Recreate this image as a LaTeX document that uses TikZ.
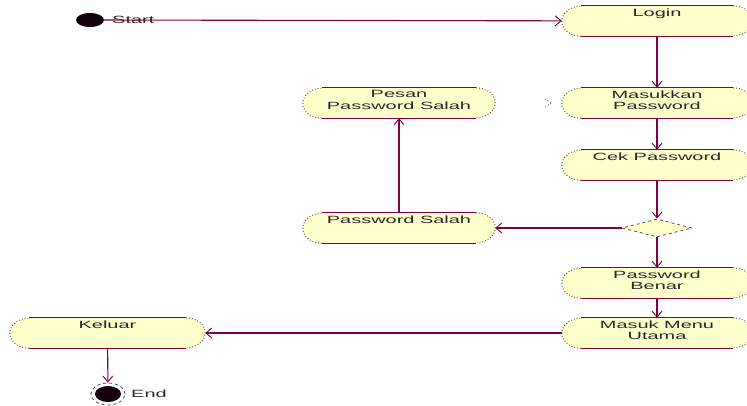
\documentclass[tikz,border=0pt]{standalone}
\usepackage{fontspec}
\newfontfamily\diagfont[FakeStretch=1.9]{Liberation Sans}
\usetikzlibrary{arrows.meta,shapes.geometric}
\pgfdeclarelayer{background}
\pgfsetlayers{background,main}
\definecolor{flowline}{RGB}{128,0,64}
\definecolor{actfill}{RGB}{255,255,204}
\definecolor{rimgray}{RGB}{80,80,80}
\definecolor{txtgray}{RGB}{40,40,40}
\definecolor{dotblack}{RGB}{20,0,10}
\tikzset{
  act/.style={minimum width=190pt, minimum height=30pt, inner sep=0pt},
  acttext/.style={anchor=north, yshift=-2.5pt, align=center, inner sep=0pt,
    font=\diagfont\fontsize{10.5}{11.5}\selectfont, text=txtgray},
  lbl/.style={anchor=west, inner sep=0pt,
    font=\diagfont\fontsize{10.5}{11.5}\selectfont, text=txtgray},
  flow/.style={draw=flowline, line width=1.1pt,
    -{Straight Barb[length=6pt,width=10pt,line width=0.9pt]}},
  rim/.style={draw=rimgray, line width=0.9pt, dotted},
  edgeline/.style={draw=flowline, line width=0.9pt},
  choice/.style={diamond, draw=rimgray, dashed, line width=0.8pt, fill=actfill,
    minimum width=70pt, minimum height=18pt, inner sep=0pt},
}
\begin{document}
\begin{tikzpicture}[x=1pt, y=-1pt]
\useasboundingbox (0,0) rectangle (747,405);

% initial and final states
\node[ellipse, fill=dotblack, minimum width=28pt, minimum height=14pt, inner sep=0pt] (start) at (90,20) {};
\node[lbl] (start-t) at (112,20) {Start};
\node[ellipse, draw=rimgray, dashed, line width=0.8pt, minimum width=34pt, minimum height=22pt, inner sep=0pt] (end) at (108,394) {};
\node[ellipse, fill=dotblack, minimum width=26pt, minimum height=16pt, inner sep=0pt] (endcore) at (end) {};
\node[lbl] (end-t) at (131,394) {End};

% activities
\node[act] (login)    at (657,21)  {};
\node[act] (masukkan) at (657,103) {};
\node[act] (cek)      at (657,165) {};
\node[choice] (cabang) at (657,228) {};
\node[act] (benar)    at (657,283) {};
\node[act] (masuk)    at (657,333) {};
\node[act, minimum width=192pt] (salah)  at (399,228) {};
\node[act, minimum width=192pt] (pesan)  at (399,103) {};
\node[act, minimum width=195pt] (keluar) at (107.5,333) {};

\node[acttext] (login-t)    at (login.north)    {Login};
\node[acttext] (masukkan-t) at (masukkan.north) {Masukkan\\Password};
\node[acttext] (cek-t)      at (cek.north)      {Cek Password};
\node[acttext] (benar-t)    at (benar.north)    {Password\\Benar};
\node[acttext] (masuk-t)    at (masuk.north)    {Masuk Menu\\Utama};
\node[acttext] (salah-t)    at (salah.north)    {Password Salah};
\node[acttext] (pesan-t)    at (pesan.north)    {Pesan\\Password Salah};
\node[acttext] (keluar-t)   at (keluar.north)   {Keluar};

% activity outlines: filled stadium, solid top and bottom, dotted ends
\begin{pgfonlayer}{background}
\foreach \n in {login,masukkan,cek,benar,masuk,salah,pesan,keluar}{
  \fill[actfill] ([xshift=19pt]\n.north west) -- ([xshift=-19pt]\n.north east)
    arc[start angle=90, end angle=-90, x radius=19pt, y radius=15pt]
    -- ([xshift=19pt]\n.south west)
    arc[start angle=270, end angle=90, x radius=19pt, y radius=15pt] -- cycle;
  \draw[rim] ([xshift=-19pt]\n.north east)
    arc[start angle=90, end angle=-90, x radius=19pt, y radius=15pt];
  \draw[rim] ([xshift=19pt]\n.south west)
    arc[start angle=270, end angle=90, x radius=19pt, y radius=15pt];
  \draw[edgeline] ([xshift=19pt]\n.north west) -- ([xshift=-19pt]\n.north east);
  \draw[edgeline] ([xshift=19pt]\n.south west) -- ([xshift=-19pt]\n.south east);
}
\end{pgfonlayer}

% small dotted mark beside Masukkan Password
\draw[rim, line width=0.7pt] ([shift={(-17pt,4pt)}]masukkan.west) -- ([shift={(-10pt,0pt)}]masukkan.west) -- ([shift={(-17pt,-4pt)}]masukkan.west);

% control flow
\draw[flow] (start) -- (login);
\draw[flow] (login) -- (masukkan);
\draw[flow] (masukkan) -- (cek);
\draw[flow] (cek) -- (cabang);
\draw[flow] (cabang) -- (benar);
\draw[flow] (cabang) -- (salah);
\draw[flow] (salah) -- (pesan);
\draw[flow] (benar) -- (masuk);
\draw[flow] (masuk) -- (keluar);
\draw[flow] (keluar) -- (end);
\end{tikzpicture}
\end{document}
